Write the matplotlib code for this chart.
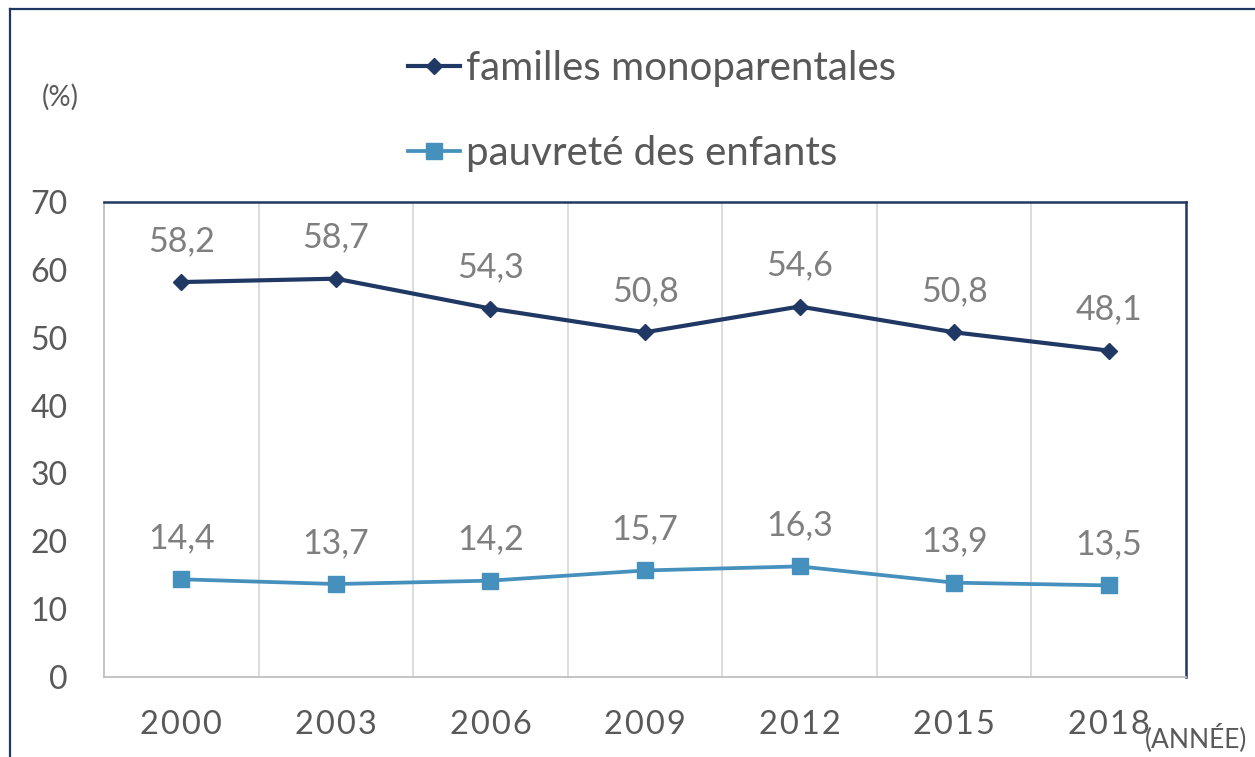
import matplotlib
matplotlib.use("Agg")
import matplotlib.pyplot as plt
from matplotlib.lines import Line2D

years = ["2000", "2003", "2006", "2009", "2012", "2015", "2018"]
familles = [58.2, 58.7, 54.3, 50.8, 54.6, 50.8, 48.1]
pauvrete = [14.4, 13.7, 14.2, 15.7, 16.3, 13.9, 13.5]
label_fam = "familles monoparentales"
label_pau = "pauvreté des enfants"
yticks = [0, 10, 20, 30, 40, 50, 60, 70]

NAVY = "#1F3864"
BLUE = "#4590BD"
GRAY_TXT = "#595959"
LABEL_TXT = "#7F7F7F"

plt.rcParams["font.family"] = ["Lato", "DejaVu Sans"]

W, H = 1255, 757
fig = plt.figure(figsize=(W / 100, H / 100), dpi=100)
ax = fig.add_axes([104 / W, 1 - 677 / H, (1186 - 104) / W, (677 - 202) / H])

x = list(range(len(years)))
ax.plot(x, familles, color=NAVY, lw=3.0, marker="D", ms=8, label=label_fam, zorder=3)
ax.plot(x, pauvrete, color=BLUE, lw=2.7, marker="s", ms=12, label=label_pau, zorder=3)

for xi, v in zip(x, familles):
    ax.annotate(f"{v:.1f}".replace(".", ","), (xi, v), xytext=(0, 29.5), textcoords="offset points",
                ha="center", va="center", fontsize=24.5, color=LABEL_TXT)
for xi, v in zip(x, pauvrete):
    ax.annotate(f"{v:.1f}".replace(".", ","), (xi, v), xytext=(0, 29.5), textcoords="offset points",
                ha="center", va="center", fontsize=24.5, color=LABEL_TXT)

ax.set_xlim(-0.5, len(years) - 0.5)
ax.set_ylim(0, 70)
ax.set_yticks(yticks)
ax.set_yticklabels([str(t) for t in yticks])
ax.set_xticks(x)
ax.set_xticklabels(["\u200a".join(y) for y in years])
ax.set_xticks([i + 0.5 for i in x[:-1]], minor=True)
ax.grid(True, which="minor", axis="x", color="#D9D9D9", lw=1.3)
ax.tick_params(axis="both", which="both", length=0)
ax.tick_params(axis="y", labelsize=23, labelcolor=GRAY_TXT, pad=26)
ax.tick_params(axis="x", labelsize=23.5, labelcolor=GRAY_TXT, pad=24)

for side in ["top", "right"]:
    ax.spines[side].set_color(NAVY)
    ax.spines[side].set_linewidth(1.8)
for side in ["left", "bottom"]:
    ax.spines[side].set_color("#BFBFBF")
    ax.spines[side].set_linewidth(1.3)

ax.legend(loc="upper left", bbox_to_anchor=(408 / W, 1 - 50 / H), bbox_transform=fig.transFigure,
          frameon=False, fontsize=29, handlelength=1.3, handletextpad=0.15, labelspacing=1.2,
          borderpad=0, borderaxespad=0, labelcolor=GRAY_TXT)

fig.text(60 / W, 1 - 97 / H, "(%)", ha="center", va="center", fontsize=20, color=GRAY_TXT)
fig.text(1145 / W, 1 - 738 / H, "(ANNÉE)", ha="left", va="center", fontsize=19, color=GRAY_TXT)

# figure frame (top and left edges)
fig.add_artist(Line2D([10 / W, 1], [1 - 9 / H, 1 - 9 / H], transform=fig.transFigure, color=NAVY, lw=1.6))
fig.add_artist(Line2D([10 / W, 10 / W], [0, 1 - 9 / H], transform=fig.transFigure, color=NAVY, lw=1.6))

fig.savefig("out.png", dpi=100)
